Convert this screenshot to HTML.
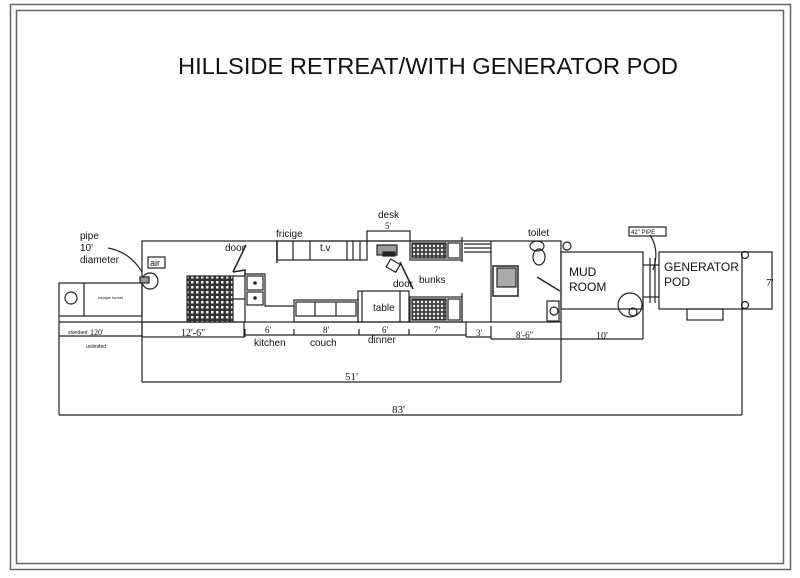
<!DOCTYPE html>
<html><head><meta charset="utf-8"><style>
html,body{margin:0;padding:0;background:#fff}
svg{display:block}
text{font-family:"Liberation Sans",sans-serif;fill:#111}
.s{font-family:"Liberation Serif",serif}
</style></head><body>
<svg width="800" height="578" viewBox="0 0 800 578" xmlns="http://www.w3.org/2000/svg">
<defs>
<pattern id="h" width="5" height="5" patternUnits="userSpaceOnUse">
<rect width="5" height="5" fill="#333"/><rect x="1" y="1" width="2.5" height="2.5" fill="#eee"/>
</pattern>
<pattern id="b" width="4" height="4" patternUnits="userSpaceOnUse">
<rect width="4" height="4" fill="#444"/><circle cx="2" cy="2" r="1.2" fill="#eee"/>
</pattern>
</defs>
<g fill="none" stroke="#666" stroke-width="1.5">
<rect x="10.5" y="4.5" width="780" height="565"/>
<rect x="16.5" y="10.5" width="767" height="553"/>
</g>
<text x="178" y="74" font-size="23" textLength="500" lengthAdjust="spacingAndGlyphs">HILLSIDE RETREAT/WITH  GENERATOR POD</text>

<g fill="none" stroke="#222" stroke-width="1.2">
<rect x="142" y="241" width="419" height="81"/>
<line x1="142" y1="322" x2="142" y2="382"/>
<line x1="142" y1="382" x2="561" y2="382"/>
<line x1="561" y1="322" x2="561" y2="382"/>
<rect x="59" y="283" width="83" height="33"/>
<line x1="84" y1="283" x2="84" y2="316"/>
<circle cx="71" cy="298" r="6"/>
<line x1="59" y1="316" x2="59" y2="415"/>
<line x1="59" y1="322" x2="142" y2="322"/>
<line x1="59" y1="336" x2="142" y2="336"/>
<line x1="59" y1="415" x2="742" y2="415"/>
<line x1="742" y1="309" x2="742" y2="415"/>
<rect x="142" y="322" width="102" height="15"/>
<line x1="245" y1="335" x2="466" y2="335"/>
<line x1="245" y1="329" x2="245" y2="337"/>
<line x1="294" y1="329" x2="294" y2="335"/>
<line x1="359" y1="329" x2="359" y2="335"/>
<line x1="409" y1="329" x2="409" y2="335"/>
<line x1="466" y1="322" x2="466" y2="337"/>
<line x1="466" y1="337" x2="491" y2="337"/>
<line x1="491" y1="326" x2="491" y2="339"/>
<line x1="491" y1="339" x2="643" y2="339"/>
<line x1="643" y1="309" x2="643" y2="339"/>
<path d="M108 248 Q130 252 142 272"/>
<circle cx="150" cy="281" r="8"/>
<rect x="140" y="277" width="9" height="6" fill="#999"/>
<rect x="148" y="257" width="17" height="11"/>
<rect x="187" y="276" width="46" height="46" fill="url(#h)"/>
<path d="M233 276 L245 276 L245 322 M233 299 L245 299"/>
<path d="M233 272 L246 245 M233 272 L245 270 L245 276" stroke-width="1.5"/>
<path d="M245 274 H265 V306 H294"/>
<rect x="247" y="276" width="16" height="14"/><rect x="247" y="292" width="16" height="13"/>
<circle cx="255" cy="283" r="1.2" fill="#222"/><circle cx="255" cy="298" r="1.2" fill="#222"/>
<rect x="277" y="241" width="90" height="19"/>
<line x1="277" y1="241" x2="277" y2="263" stroke-width="1.5"/>
<line x1="293" y1="241" x2="293" y2="260"/>
<line x1="310" y1="241" x2="310" y2="260"/>
<line x1="347" y1="241" x2="347" y2="260"/>
<line x1="353" y1="241" x2="353" y2="260"/>
<line x1="360" y1="241" x2="360" y2="260"/>
<rect x="294" y="300" width="64" height="22"/>
<rect x="296" y="302" width="60" height="14"/>
<line x1="315" y1="302" x2="315" y2="316"/><line x1="336" y1="302" x2="336" y2="316"/>
<rect x="358" y="291" width="51" height="31"/>
<line x1="362" y1="291" x2="362" y2="322"/><line x1="400" y1="291" x2="400" y2="322"/>
<rect x="367" y="231" width="43" height="10"/>
<rect x="377" y="245" width="20" height="10" fill="#999"/>
<rect x="383" y="252" width="12" height="4" fill="#222"/>
<rect x="388" y="261" width="11" height="9" transform="rotate(30 393 265)"/>
<line x1="400" y1="262" x2="413" y2="289" stroke-width="1.5"/>
<rect x="410" y="241" width="52" height="19"/>
<rect x="412" y="243" width="34" height="15" fill="url(#b)"/>
<rect x="448" y="243" width="12" height="15"/>
<rect x="410" y="297" width="52" height="25"/>
<rect x="412" y="299" width="34" height="21" fill="url(#b)"/>
<rect x="448" y="299" width="12" height="21"/>
<line x1="462" y1="237" x2="462" y2="262"/>
<line x1="462" y1="293" x2="462" y2="322"/>
<line x1="464" y1="244" x2="491" y2="244"/><line x1="464" y1="248" x2="491" y2="248"/><line x1="464" y1="252" x2="491" y2="252"/>
<line x1="491" y1="241" x2="491" y2="322"/>
<rect x="493" y="266" width="25" height="30" stroke-width="1.5"/>
<rect x="497" y="268" width="19" height="19" fill="#aaa"/>
<ellipse cx="537" cy="246" rx="7" ry="5"/>
<ellipse cx="539" cy="257" rx="6" ry="8"/>
<line x1="537" y1="277" x2="560" y2="291" stroke-width="1.5"/>
<rect x="547" y="301" width="12" height="20"/>
<circle cx="554" cy="311" r="4"/>
<circle cx="567" cy="246" r="4"/>
<rect x="561" y="252" width="82" height="57"/>
<circle cx="630" cy="305" r="12"/>
<circle cx="633" cy="312" r="4"/>
<line x1="643" y1="265" x2="659" y2="265"/>
<line x1="643" y1="297" x2="659" y2="297"/>
<line x1="650" y1="258" x2="650" y2="303"/>
<line x1="655" y1="258" x2="655" y2="303"/>
<path d="M650 235 Q660 250 653 270"/>
<rect x="629" y="227" width="37" height="9"/>
<rect x="659" y="252" width="83" height="57"/>
<path d="M742 252 H772 V309 H742"/>
<circle cx="745" cy="255" r="3.5"/><circle cx="745" cy="305" r="3.5"/>
<rect x="687" y="309" width="36" height="11"/>
</g>

<text x="80" y="239" font-size="10">pipe</text>
<text x="80" y="251" font-size="10">10'</text>
<text x="80" y="263" font-size="10">diameter</text>
<text x="150" y="266" font-size="9">air</text>
<text x="225" y="251" font-size="10">door</text>
<text x="276" y="237" font-size="10">fricige</text>
<text x="320" y="251" font-size="10">t.v</text>
<text x="378" y="218" font-size="10">desk</text>
<text class="s" x="385" y="229" font-size="9">5'</text>
<text x="393" y="287" font-size="10">door</text>
<text x="419" y="283" font-size="10">bunks</text>
<text x="373" y="311" font-size="10">table</text>
<text x="528" y="236" font-size="10">toilet</text>
<text x="569" y="276" font-size="12">MUD</text>
<text x="569" y="291" font-size="12">ROOM</text>
<text x="664" y="271" font-size="12">GENERATOR</text>
<text x="664" y="286" font-size="12">POD</text>
<text x="631" y="234" font-size="6">42" PIPE</text>
<text class="s" x="766" y="286" font-size="11">7'</text>
<text x="98" y="299" font-size="4">escape tunnel</text>
<text x="68" y="334" font-size="5">standard</text>
<text class="s" x="90" y="335" font-size="8">120'</text>
<text x="86" y="348" font-size="5">unlimited</text>
<text class="s" x="181" y="336" font-size="10">12'-6"</text>
<text class="s" x="265" y="333" font-size="9">6'</text>
<text class="s" x="323" y="333" font-size="9">8'</text>
<text class="s" x="382" y="333" font-size="9">6'</text>
<text class="s" x="434" y="333" font-size="9">7'</text>
<text class="s" x="476" y="336" font-size="9">3'</text>
<text class="s" x="516" y="338" font-size="9">8'-6"</text>
<text class="s" x="596" y="339" font-size="10">10'</text>
<text x="254" y="346" font-size="10">kitchen</text>
<text x="310" y="346" font-size="10">couch</text>
<text x="368" y="343" font-size="10">dinner</text>
<text class="s" x="345" y="380" font-size="11">51'</text>
<text class="s" x="392" y="413" font-size="11">83'</text>
</svg>
</body></html>
